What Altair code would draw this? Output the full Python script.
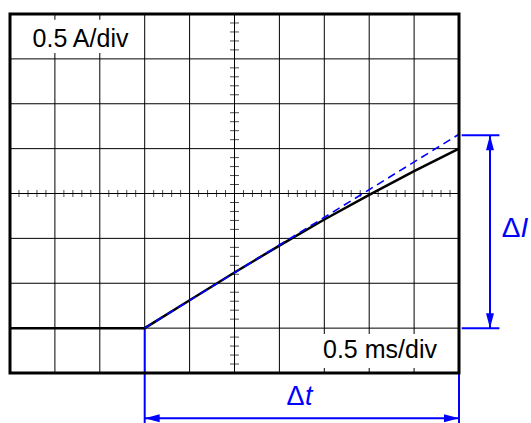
import altair as alt
import pandas as pd

# ---- data (in screen divisions) ----
trace_t = [0, 3, 4, 5, 6, 7, 8, 9, 10]
trace_i = [1.0, 1.0, 1.62, 2.24, 2.84, 3.42, 3.97, 4.50, 5.00]
tangent_t = [3, 10]
tangent_i = [1.0, 5.32]
grid_x = [1, 2, 3, 4, 5, 6, 7, 8, 9]
grid_y = [1, 2, 3, 4, 5, 6, 7]
minor_x = [round(k * 0.2, 1) for k in range(1, 50) if k % 5]
minor_y = [round(k * 0.2, 1) for k in range(1, 40) if k % 5]
label_y = "0.5 A/div"
label_x = "0.5 ms/div"

FONT = "Liberation Sans"
BLUE = "#0000ff"

X = lambda f="x": alt.X(f"{f}:Q", scale=alt.Scale(domain=[0, 10], nice=False, zero=False), axis=None)
Y = lambda f="y": alt.Y(f"{f}:Q", scale=alt.Scale(domain=[0, 8], nice=False, zero=False), axis=None)

vgrid = alt.Chart(pd.DataFrame({"x": grid_x})).mark_rule(color="black", strokeWidth=1).encode(x=X())
hgrid = alt.Chart(pd.DataFrame({"y": grid_y})).mark_rule(color="black", strokeWidth=1).encode(y=Y())

hticks = alt.Chart(pd.DataFrame({"x": minor_x, "y": [4] * len(minor_x)})).mark_tick(
    orient="vertical", size=7, thickness=1, color="black").encode(x=X(), y=Y())
vticks = alt.Chart(pd.DataFrame({"x": [5] * len(minor_y), "y": minor_y})).mark_tick(
    orient="horizontal", size=9, thickness=1, color="black").encode(x=X(), y=Y())

boxes = alt.Chart(pd.DataFrame({
    "x": [0.0, 6.04], "x2": [2.96, 10.0], "y": [7.13, 0.11], "y2": [7.87, 0.87]
})).mark_rect(color="white").encode(x=X(), x2="x2:Q", y=Y(), y2="y2:Q")

labels = alt.Chart(pd.DataFrame({
    "x": [1.57, 8.24], "y": [7.27, 0.325], "t": [label_y, label_x]
})).mark_text(font=FONT, fontSize=25, align="center", baseline="alphabetic", color="black").encode(
    x=X(), y=Y(), text="t:N")

# blue annotation segments
segs = alt.Chart(pd.DataFrame({
    "x":  [10.06, 10.06, 10.69, 3.0, 10.0, 3.0],
    "x2": [10.90, 10.90, 10.69, 3.0, 10.0, 10.0],
    "y":  [5.30, 1.0, 5.30, 1.0, 0.0, -1.01],
    "y2": [5.30, 1.0, 1.0, -1.2, -1.2, -1.01],
})).mark_rule(color=BLUE, strokeWidth=2).encode(x=X(), x2="x2:Q", y=Y(), y2="y2:Q")

def head(path, xs, ys):
    return alt.Chart(pd.DataFrame({"x": xs, "y": ys})).mark_point(
        shape=path, filled=True, size=225, color=BLUE, opacity=1, strokeWidth=0).encode(x=X(), y=Y())

up = head("M0,0 L-0.53,2 L0.53,2 Z", [10.69], [5.30])
down = head("M0,0 L-0.53,-2 L0.53,-2 Z", [10.69], [1.0])
left = head("M0,0 L2,-0.53 L2,0.53 Z", [3.0], [-1.01])
right = head("M0,0 L-2,-0.53 L-2,0.53 Z", [10.0], [-1.01])

delta_big = alt.Chart(pd.DataFrame({"x": [10.95, 6.16], "y": [3.02, -0.713], "t": ["Δ", "Δ"], "s": [28, 27]})).mark_text(
    font=FONT, align="left", baseline="alphabetic", color=BLUE).encode(
    x=X(), y=Y(), text="t:N", size=alt.Size("s:Q", scale=None, legend=None))
delta_var = alt.Chart(pd.DataFrame({"x": [11.37, 6.57], "y": [3.02, -0.713], "t": ["I", "t"], "s": [28, 27]})).mark_text(
    font=FONT, fontStyle="italic", align="left", baseline="alphabetic", color=BLUE).encode(
    x=X(), y=Y(), text="t:N", size=alt.Size("s:Q", scale=None, legend=None))

trace = alt.Chart(pd.DataFrame({"x": trace_t, "y": trace_i})).mark_line(
    color="black", strokeWidth=2.5).encode(x=X(), y=Y())
tangent = alt.Chart(pd.DataFrame({"x": tangent_t, "y": tangent_i})).mark_line(
    color=BLUE, strokeWidth=1.6, strokeDash=[8, 5]).encode(x=X(), y=Y())

frame = alt.Chart(pd.DataFrame({"x": [0], "x2": [10], "y": [0], "y2": [8]})).mark_rect(
    fill="transparent", stroke="black", strokeWidth=3).encode(x=X(), x2="x2:Q", y=Y(), y2="y2:Q")

chart = alt.layer(
    vgrid, hgrid, hticks, vticks, boxes, labels, segs, up, down, left, right,
    delta_big, delta_var, trace, tangent, frame
).properties(
    width=449, height=359,
    autosize=alt.AutoSizeParams(type="none"),
    padding={"left": 10, "top": 14, "right": 72, "bottom": 50},
    background="white",
).configure_view(strokeWidth=0)

chart.save("out.html", embed_options={"renderer": "svg", "actions": False})
